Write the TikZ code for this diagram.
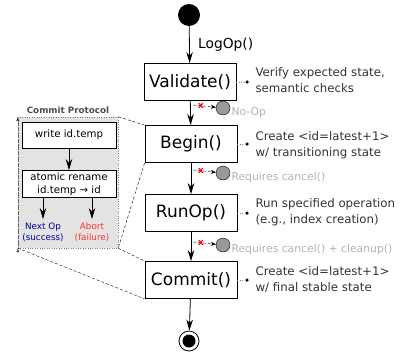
\documentclass[tikz,border=0pt]{standalone}
\usepackage{fontspec}
\setmainfont{DejaVu Sans}
\usetikzlibrary{arrows.meta}
\tikzset{
  stepbox/.style={draw, thick, minimum width=92pt, minimum height=37pt, inner sep=0pt, font=\fontsize{17}{19}\selectfont},
  protobox/.style={draw, thick, fill=white, minimum width=94pt, inner sep=2pt, align=center, font=\fontsize{10.2}{13}\selectfont},
  flow/.style={-{Stealth[length=11pt,width=6.5pt]}, thick},
  side/.style={-{Stealth[length=5pt,width=4pt]}, densely dashed, thin},
  endstate/.style={circle, draw, fill=gray!80, minimum size=14pt, inner sep=0pt},
  endlabel/.style={anchor=west, text=gray!60, font=\fontsize{10.8}{12}\selectfont},
  note/.style={anchor=west, align=left, text=black!80, font=\fontsize{11.8}{16}\selectfont},
  notedot/.style={circle, fill, minimum size=3.5pt, inner sep=0pt},
  zoomline/.style={densely dashed, thin}
}
\begin{document}
\begin{tikzpicture}[x=1pt, y=-1pt]
          \useasboundingbox (0,0) rectangle (401,351);
          \node[circle, fill, minimum size=22pt, inner sep=0pt] at (189,15) (start) {};
          \node[stepbox] at (190,82) (validate) {Validate()};
          \node[stepbox] at (191,144) (begin) {Begin()};
          \node[stepbox] at (191,213) (runop) {RunOp()};
          \node[stepbox] at (191,280) (commit) {Commit()};
          \node[circle, draw, thick, minimum size=20pt] at (189,341) (stop) {};
          \node[circle, fill, minimum size=13pt, inner sep=0pt] at (stop) (stopdot) {};
          \path[flow] (start) edge node[right, xshift=5pt, font=\fontsize{13.8}{15}\selectfont] {LogOp()} (validate);
          \path[flow] (validate) edge (begin);
          \path[flow] (begin) edge (runop);
          \path[flow] (runop) edge (commit);
          \path[flow] (commit) edge (stop);
          \node[notedot] at (247,82) (d1) {};
          \node[notedot] at (247,144) (d2) {};
          \node[notedot] at (247,213) (d3) {};
          \node[notedot] at (247,280) (d4) {};
          \path[dotted, gray] (validate) edge (d1);
          \path[dotted, gray] (begin) edge (d2);
          \path[dotted, gray] (runop) edge (d3);
          \path[dotted, gray] (commit) edge (d4);
          \node[note] at (252,80) (n1) {Verify expected state,\\semantic checks};
          \node[note] at (252,145) (n2) {Create <id=latest+1>\\w/ transitioning state};
          \node[note] at (252,212) (n3) {Run specified operation\\(e.g., index creation)};
          \node[note] at (252,280) (n4) {Create <id=latest+1>\\w/ final stable state};
          \coordinate (s1) at (193,105);
          \coordinate (s2) at (193,170);
          \coordinate (s3) at (193,242);
          \node[endstate] at (223,108) (noop) {};
          \node[endstate] at (223,173) (cancel) {};
          \node[endstate] at (223,245) (cleanup) {};
          \path[side] (s1) edge node[pos=0.35, text=red, font=\bfseries\small] {x} (noop);
          \path[side] (s2) edge node[pos=0.35, text=red, font=\bfseries\small] {x} (cancel);
          \path[side] (s3) edge node[pos=0.35, text=red, font=\bfseries\small] {x} (cleanup);
          \node[endlabel] at (228,113) (l1) {No-Op};
          \node[endlabel] at (228,178) (l2) {Requires cancel()};
          \node[endlabel] at (228,250) (l3) {Requires cancel() + cleanup()};
          \node[draw=gray, dotted, fill=gray!22, minimum width=100pt, minimum height=131pt, inner sep=0pt] at (68,182.5) (panel) {};
          \path[-{Latex[length=4pt,width=3pt]}, dotted, draw=black!70] (panel.south west) edge (panel.north west);
          \node[text=black!70, font=\bfseries\fontsize{8.8}{10}\selectfont] at (68,110) (ptitle) {Commit Protocol};
          \node[protobox, minimum height=26pt] at (69,135) (write) {write id.temp};
          \node[protobox, minimum height=27pt] at (69,184) (rename) {atomic rename\\id.temp → id};
          \node[align=center, text=blue!60!black, font=\fontsize{8.8}{11}\selectfont] at (43,232) (nextop) {Next Op\\(success)};
          \node[align=center, text=red!80, font=\fontsize{8.8}{11}\selectfont] at (92,232) (abort) {Abort\\(failure)};
          \path[flow] (write) edge (rename);
          \path[flow] (rename.south -| nextop) edge (nextop.north);
          \path[flow] (rename.south -| abort) edge (abort.north);
          \path[zoomline] (panel.north east) edge (begin.north west);
          \path[zoomline] (begin.south west) edge (panel.south east);
          \path[zoomline] (panel.south east) edge (commit.north west);
          \path[zoomline] (panel.south west) edge (commit.south west);
        \end{tikzpicture}
\end{document}
